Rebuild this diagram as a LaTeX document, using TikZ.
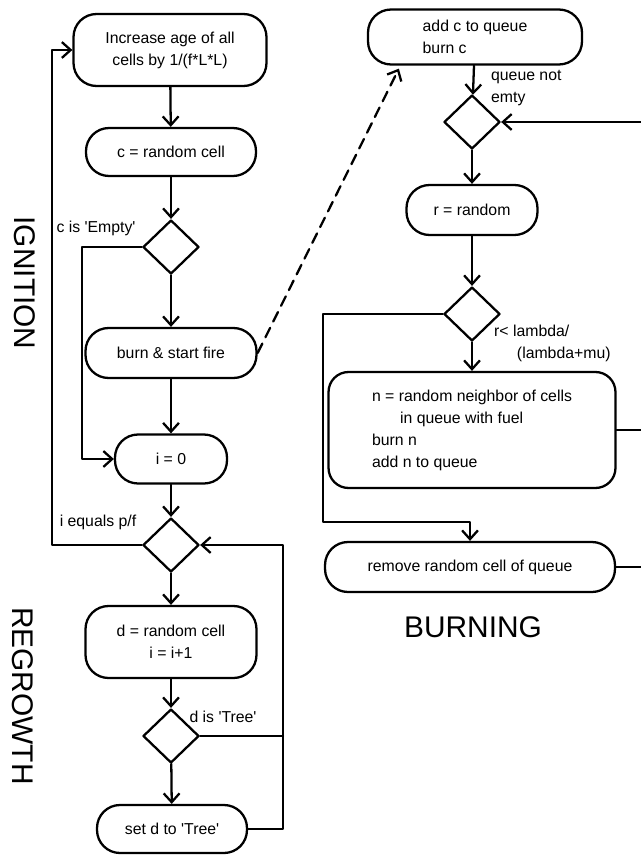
\documentclass[tikz,border=0pt]{standalone}
\usepackage{fontspec}
\setmainfont{Liberation Sans}
\usepackage{tikz}
\usetikzlibrary{arrows.meta,shapes.geometric}

\begin{document}
\begin{tikzpicture}[line cap=round,line join=round,>={Straight Barb[length=5pt,width=9pt]},x=0.02cm,y=-0.02cm,line width=1.3pt,
stadium/.style={draw,rounded corners=0.46cm,align=center,inner sep=0pt,font=\fontsize{9}{12.5}\selectfont},
cond/.style={draw,diamond,inner sep=0pt,minimum width=1.12cm,minimum height=1.08cm},
lbl/.style={font=\fontsize{9}{12.5}\selectfont,inner sep=0pt},
phase/.style={font=\fontsize{17}{20}\selectfont,inner sep=0pt}]
\useasboundingbox (0,0) rectangle (641,855);
\node[stadium,minimum width=3.86cm,minimum height=1.44cm] (incr) at (170,50) {Increase age of all\\cells by 1/(f*L*L)};
\node[stadium,minimum width=3.4cm,minimum height=0.96cm] (crand) at (171,152) {c = random cell};
\node[cond] (empty) at (171,247) {};
\node[stadium,minimum width=3.42cm,minimum height=1cm] (burn) at (171,353) {burn \& start fire};
\node[stadium,minimum width=2.24cm,minimum height=0.98cm] (izero) at (171,459) {i = 0};
\node[cond] (iend) at (171,545) {};
\node[stadium,minimum width=3.42cm,minimum height=1.44cm] (dcell) at (171,642) {d = random cell\\i = i+1};
\node[cond] (istree) at (171,736) {};
\node[stadium,minimum width=3cm,minimum height=0.96cm] (setd) at (172,829) {set d to \textquotesingle Tree\textquotesingle};
\node[stadium,align=left,minimum width=4.28cm,minimum height=1.1cm] (addc) at (475,37) {add c to queue\\burn c};
\node[cond] (qempty) at (472,122) {};
\node[stadium,minimum width=2.62cm,minimum height=1cm] (rrand) at (472,210) {r = random};
\node[cond] (rless) at (472,314) {};
\node[stadium,align=left,minimum width=5.74cm,minimum height=2.32cm,rounded corners=0.4cm] (nbr) at (472,430) {n = random neighbor of cells\\\hspace{16pt}in queue with fuel\\burn n\\add n to queue};
\node[stadium,minimum width=5.8cm,minimum height=1cm] (remove) at (470,567) {remove random cell of queue};
\node[lbl] (lempty) at (96,228) {c is \textquotesingle Empty\textquotesingle};
\node[lbl] (lend) at (98,522) {i equals p/f};
\node[lbl] (ltree) at (223,717) {d is \textquotesingle Tree\textquotesingle};
\node[lbl,align=left,anchor=west] (lqueue) at (490,88) {queue not\\emty};
\node[lbl,align=left,anchor=north west] (lrless) at (493,324) {r< lambda/\\\hspace{13pt}(lambda+mu)};
\node[phase,rotate=-90] (ignition) at (25,283) {IGNITION};
\node[phase,rotate=-90] (regrowth) at (23,696) {REGROWTH};
\node[phase] (burning) at (473,627) {BURNING};
\coordinate (loop) at (283,545);
\coordinate (edge) at (646,122);
\draw[->] (incr) -- (crand);
\draw[->] (crand) -- (empty);
\draw[->] (empty) -- (burn);
\draw[->] (empty.west) -- ++(-60,0) |- (izero.west);
\draw[->] (burn) -- (izero);
\draw[->] (izero) -- (iend);
\draw[->] (iend.west) -- ++(-90,0) |- (incr.west);
\draw[->] (iend) -- (dcell);
\draw[->] (dcell) -- (istree);
\draw[->] (istree) -- (setd);
\draw (istree.east) -- (istree.east -| loop);
\draw[->] (setd.east) -- (setd.east -| loop) -- (loop) -- (iend.east);
\draw[->,dash pattern=on 6pt off 4pt] (burn.east) -- ([xshift=0.64cm,yshift=-0.06cm]addc.south west);
\draw[->] (addc) -- (qempty);
\draw[->] (qempty) -- (rrand);
\draw[->] (rrand) -- (rless);
\draw[->] (rless) -- (nbr);
\draw[->] (rless.west) -- ++(-120,0) |- ([yshift=0.38cm]remove.north) -- (remove.north);
\draw (nbr.east) -- (nbr.east -| edge);
\draw[->] (remove.east) -- (remove.east -| edge) -- (edge) -- (qempty.east);
\end{tikzpicture}
\end{document}
